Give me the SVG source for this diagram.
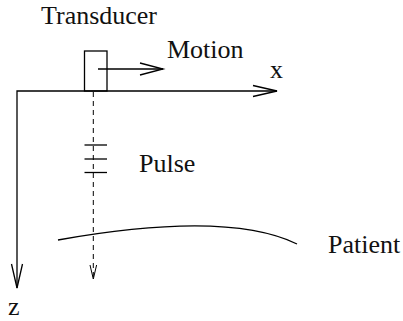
<svg xmlns="http://www.w3.org/2000/svg" width="403" height="321" viewBox="0 0 403 321">
<style>
.ln{fill:none;stroke:#000;stroke-width:1.3;stroke-linecap:butt}
.dash{fill:none;stroke:#000;stroke-width:1;stroke-dasharray:5 4}
.thin{fill:none;stroke:#000;stroke-width:1}
text{font-family:"Liberation Serif","Times New Roman",serif;font-size:26px;fill:#111}
</style>
<rect width="403" height="321" fill="#fff"/>
<g id="transducer">
<rect class="ln" x="84.5" y="51" width="22.5" height="40"/>
<text x="41" y="24">Transducer</text>
</g>
<g id="motion-label"><text x="167" y="58">Motion</text></g>
<g id="x-label"><text x="270" y="78">x</text></g>
<g id="z-label"><text x="8" y="315">z</text></g>
<g id="pulse">
<line class="ln" x1="84.5" y1="145" x2="107" y2="145"/>
<line class="ln" x1="84.5" y1="159" x2="107" y2="159"/>
<line class="ln" x1="84.5" y1="172.5" x2="107" y2="172.5"/>
<text x="139" y="172">Pulse</text>
</g>
<g id="patient">
<path class="ln" d="M58 240 Q227 210 297 244"/>
<text x="328" y="253">Patient</text>
</g>
<g id="connectors">
<polyline class="ln" points="17,288 17,91 277,91"/>
<polyline class="ln" points="253,85.5 277,91 253,96.5"/>
<polyline class="ln" points="11.5,264 17,288 22.5,264"/>
<polyline class="ln" points="98,69 163,69"/>
<polyline class="ln" points="140,63 163,69 140,75"/>
<line class="dash" x1="93.3" y1="92" x2="93.3" y2="279"/>
<polyline class="thin" points="90,265 93.3,279 96.6,265"/>
</g>
</svg>
